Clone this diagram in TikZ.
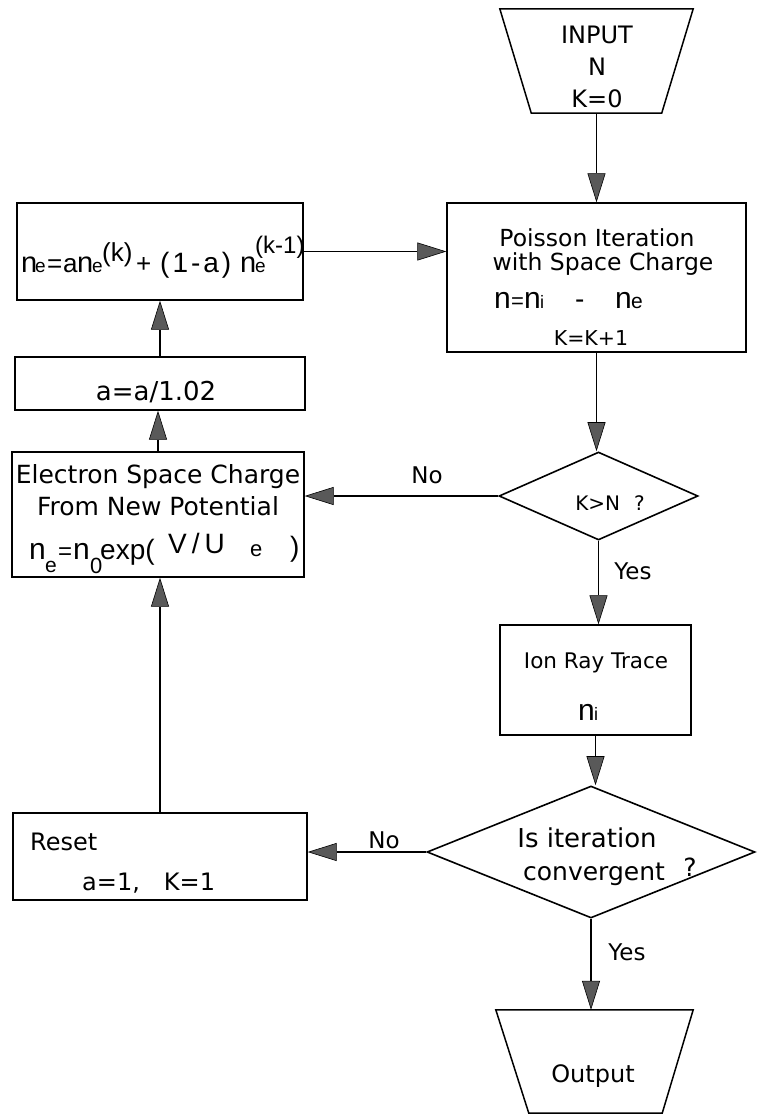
\documentclass[tikz,border=0pt]{standalone}
\usepackage{fontspec}
\setmainfont{DejaVu Sans}
\newfontfamily\hv{Liberation Sans}
\usetikzlibrary{arrows.meta,shapes.geometric,calc}
\newcommand\fs[1]{\fontsize{#1}{#1}\selectfont}
\newcommand\pc[2]{\makebox[#1pt][l]{#2}}
\begin{document}
\begin{tikzpicture}[x=1pt,y=-1pt,
  box/.style={draw, rectangle, inner sep=0pt, line width=1.4pt},
  dia/.style={draw, diamond, inner sep=0pt, line width=1.6pt},
  area/.style={rectangle, inner sep=0pt},
  outl/.style={line width=1.5pt, line join=miter},
  arr/.style={-{Triangle[length=29pt,width=18pt,fill=black!65,line width=0.6pt]}, line width=1.3pt},
  txt/.style={inner sep=0pt, anchor=base}]
\useasboundingbox (0,0) rectangle (756,1114);
% shapes
\node[area, minimum width=193pt, minimum height=104pt] (inp) at (596.5,61) {};
\draw[outl] (inp.north west) -- (inp.north east) -- ([xshift=-31.5pt]inp.south east) -- ([xshift=31.5pt]inp.south west) -- cycle;
\node[box, minimum width=299pt, minimum height=149pt] (pois) at (596.5,277.5) {};
\node[box, minimum width=286pt, minimum height=97pt] (neb) at (160,251.5) {};
\node[box, minimum width=290pt, minimum height=53pt] (abox) at (160,383.5) {};
\node[box, minimum width=292pt, minimum height=125pt] (elec) at (158,514.5) {};
\node[dia, minimum width=199pt, minimum height=88pt] (kn) at (598.5,496) {};
\node[box, minimum width=191pt, minimum height=110pt] (ion) at (595.5,680) {};
\node[dia, minimum width=328pt, minimum height=132pt] (conv) at (591,852) {};
\node[box, minimum width=294pt, minimum height=87pt] (reset) at (160,856.5) {};
\node[area, minimum width=197pt, minimum height=103pt] (outp) at (594.5,1061.5) {};
\draw[outl] (outp.north west) -- (outp.north east) -- ([xshift=-31pt]outp.south east) -- ([xshift=33pt]outp.south west) -- cycle;
% texts
\node[txt] (t1) at (597,43) {\fs{24}INPUT};
\node[txt] (t2) at (597,75) {\fs{24}N};
\node[txt] (t3) at (597,107) {\fs{24}K=0};
\node[txt] (p1) at (597,246) {\fs{23.5}Poisson Iteration};
\node[txt] (p2) at (603,270) {\fs{23.5}with Space Charge};
\node[txt, anchor=base west] (p3) at (494,308) {\hv\pc{17}{\fs{30}n}\pc{13}{\fs{22}=}\pc{16}{\fs{30}n}\pc{35}{\fs{18}i}\pc{40}{\fs{28}-}\pc{16}{\fs{30}n}{\fs{21}e}};
\node[txt] (p4) at (591,345) {\fs{20.5}K=K+1};
\node[txt, anchor=base west] (f1) at (21,272) {\hv\pc{14}{\fs{29}n}\pc{12}{\fs{19}e}\pc{16}{\fs{26}=}\pc{14}{\fs{26}a}\pc{15}{\fs{29}n}\pc{44}{\fs{19}\rlap{e}\hspace{10pt}\raisebox{11pt}{\fs{26}(k)}}\pc{24}{\fs{26}+}\pc{80}{\fs{28}(\kern3pt1\kern3pt-\kern3pt a\kern3pt)}\pc{15}{\fs{29}n}{\fs{19}\rlap{e}\raisebox{19pt}{\fs{24}(k-1)}}};
\node[txt] (a1) at (156,400) {\fs{26}a=a/1.02};
\node[txt] (e1) at (158,483) {\fs{25}Electron Space Charge};
\node[txt] (e2) at (158,515) {\fs{25}From New Potential};
\node[txt, anchor=base west] (e3) at (29,559) {\hv\pc{16}{\fs{30}n}\pc{13}{\raisebox{-13pt}{\fs{21}e}}\pc{15}{\fs{24}=}\pc{17}{\fs{30}n}\pc{10}{\raisebox{-14pt}{\fs{22}0}}\pc{68}{\fs{28}exp(}\pc{82}{\raisebox{6pt}{\fs{28}V\kern5pt/\kern5pt U}}\pc{40}{\raisebox{3pt}{\fs{22}e}}{\raisebox{3pt}{\fs{28})}}};
\node[txt] (k1) at (610,510) {\fs{20}K>N\hspace{14pt}?};
\node[txt] (no1) at (427,483) {\fs{23}No};
\node[txt] (y1) at (633,579) {\fs{23}Yes};
\node[txt] (i1) at (596,668) {\fs{21.5}Ion Ray Trace};
\node[txt, anchor=base west] (i2) at (578,720) {\hv\pc{16}{\fs{30}n}{\fs{18}i}};
\node[txt] (c1) at (587,847) {\fs{26}Is iteration};
\node[txt] (c2) at (594,880) {\fs{25}convergent};
\node[txt] (c3) at (690,876) {\fs{25}?};
\node[txt] (no2) at (384,848) {\fs{23}No};
\node[txt] (y2) at (627,960) {\fs{23}Yes};
\node[txt, anchor=base west] (r1) at (30,850) {\fs{24}Reset};
\node[txt, anchor=base west] (r2) at (82,890) {\fs{24}a=1,\hspace{24pt}K=1};
\node[txt] (o1) at (593,1082) {\fs{24}Output};
% connectors
\draw[arr] (inp.south) -- (inp.south |- pois.north);
\draw[arr] (neb.east) -- (neb.east -| pois.west);
\draw[arr] (pois.south) -- (pois.south |- kn.north);
\draw[arr] (kn.west) -- (kn.west -| elec.east);
\draw[arr] (kn.south) -- (kn.south |- ion.north);
\draw[arr] (ion.south) -- (ion.south |- conv.north);
\draw[arr] (conv.west) -- (conv.west -| reset.east);
\draw[arr] (conv.south) -- (conv.south |- outp.north);
\draw[arr] (reset.north) -- (reset.north |- elec.south);
\draw[arr] (elec.north) -- (elec.north |- abox.south);
\draw[arr] (abox.north) -- (abox.north |- neb.south);
\end{tikzpicture}
\end{document}
